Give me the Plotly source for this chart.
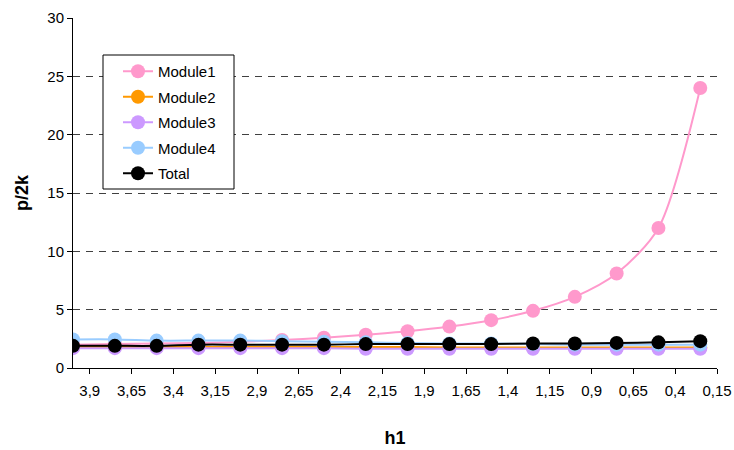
import plotly.graph_objects as go

h1 = [4.0, 3.75, 3.5, 3.25, 3.0, 2.75, 2.5, 2.25, 2.0, 1.75, 1.5, 1.25, 1.0, 0.75, 0.5, 0.25]
module1 = [2.0, 2.05, 2.1, 2.15, 2.25, 2.4, 2.6, 2.85, 3.15, 3.55, 4.1, 4.9, 6.1, 8.1, 12.0, 24.0]
module2 = [1.8, 1.8, 1.8, 1.8, 1.8, 1.8, 1.8, 1.8, 1.8, 1.75, 1.75, 1.75, 1.75, 1.75, 1.75, 1.75]
module3 = [1.7, 1.7, 1.7, 1.7, 1.7, 1.7, 1.7, 1.65, 1.65, 1.65, 1.65, 1.65, 1.65, 1.65, 1.65, 1.65]
module4 = [2.45, 2.45, 2.35, 2.35, 2.35, 2.3, 2.25, 2.2, 2.15, 2.1, 2.1, 2.05, 2.0, 2.0, 2.0, 2.0]
total = [1.9, 1.9, 1.9, 2.0, 2.0, 2.0, 2.0, 2.05, 2.05, 2.05, 2.05, 2.1, 2.1, 2.15, 2.2, 2.3]

names = ["Module1", "Module2", "Module3", "Module4", "Total"]
colors = ["#FF99CC", "#FF9900", "#CC99FF", "#99CCFF", "#000000"]
series = [module1, module2, module3, module4, total]
y_ticks = [0, 5, 10, 15, 20, 25, 30]

W, H = 734, 450
ML, MR, MT, MB = 73, 17, 18, 82
PW, PH = W - ML - MR, H - MT - MB


def px_x(p):
    return (p - ML) / PW


def px_y(p):
    return (H - MB - p) / PH


fig = go.Figure()
for n, c, s in zip(names, colors, series):
    fig.add_trace(go.Scatter(
        x=h1, y=s, name=n, mode="lines+markers",
        line=dict(color=c, width=2, shape="spline", smoothing=0.8),
        marker=dict(color=c, size=14),
        legendgroup=n,
    ))

# legend frame
fig.add_shape(
    type="rect", xref="paper", yref="paper",
    x0=px_x(103), x1=px_x(234), y0=px_y(189), y1=px_y(55),
    line=dict(color="#000000", width=1), fillcolor="white", layer="above",
)

font = "Liberation Sans, Arial, sans-serif"
fig.update_layout(
    width=W, height=H,
    margin=dict(l=ML, r=MR, t=MT, b=MB, autoexpand=False),
    paper_bgcolor="white", plot_bgcolor="white",
    separators=", ",
    font=dict(family=font, size=15, color="#000000"),
    showlegend=True,
    legend=dict(
        x=px_x(118), y=px_y(55), xanchor="left", yanchor="top",
        borderwidth=0, bgcolor="rgba(0,0,0,0)",
        font=dict(size=15), tracegroupgap=3, traceorder="grouped",
        itemwidth=30,
    ),
    xaxis=dict(
        range=[4.0, 0.15], autorange=False, automargin=False,
        tick0=0.15, dtick=0.25, ticks="outside", ticklen=5,
        ticklabelstandoff=4, ticklabeloverflow="allow",
        tickcolor="#000000", showline=True, linecolor="#000000", linewidth=1,
        showgrid=False, zeroline=False,
        title=dict(text="<b>h1</b>", font=dict(size=18), standoff=33),
        tickfont=dict(size=15),
    ),
    yaxis=dict(
        range=[0, 30], autorange=False, automargin=False,
        tickvals=y_ticks, ticks="outside", ticklen=5,
        tickcolor="#000000", showline=True, linecolor="#000000", linewidth=1,
        showgrid=True, gridcolor="#404040", griddash="7px,6px", gridwidth=1,
        zeroline=False,
        title=dict(text="<b>p/2k</b>", font=dict(size=18), standoff=14),
        tickfont=dict(size=15),
    ),
)
fig.write_html(
    "out.html",
    config={"displayModeBar": False},
    post_script="document.body.style.margin='0px';document.body.style.overflow='hidden';",
)
